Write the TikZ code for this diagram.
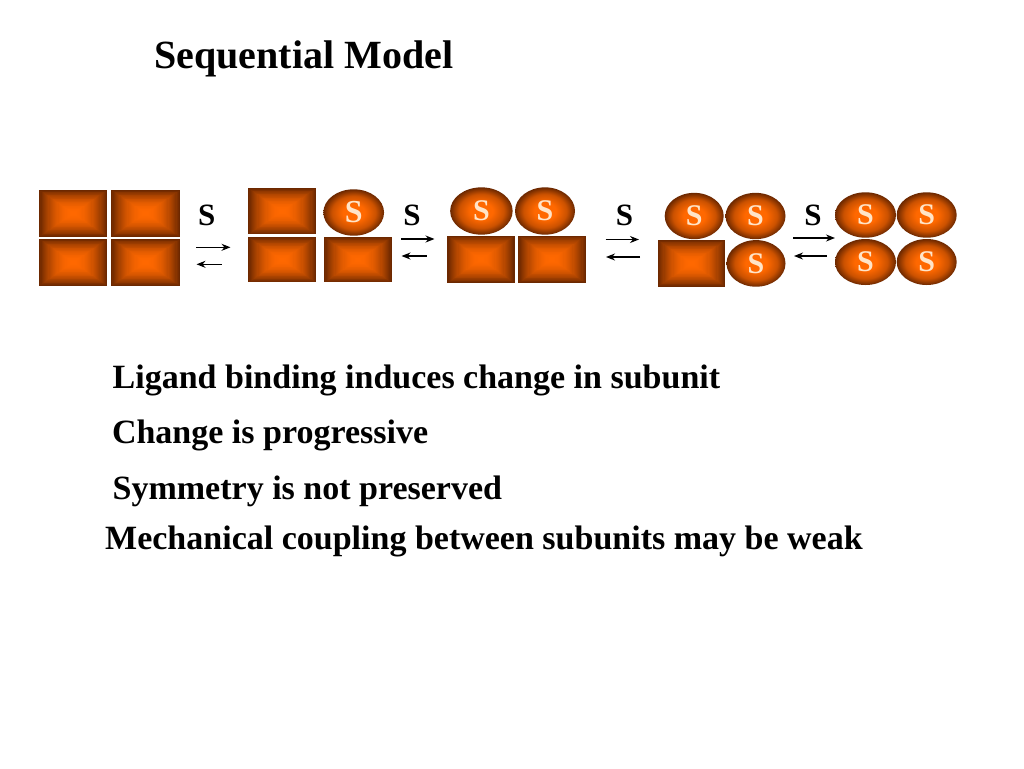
\documentclass[tikz,border=0pt]{standalone}
\usepackage{fontspec}
\setmainfont{Liberation Serif}
\usetikzlibrary{shapes.geometric,arrows.meta,calc}
\definecolor{hi}{RGB}{255,104,0}
\definecolor{lo}{RGB}{108,40,0}
\definecolor{peach}{RGB}{255,228,200}
\pgfdeclareradialshading{ballsh}{\pgfpoint{0bp}{0bp}}{color(0bp)=(hi); color(9bp)=(hi); color(18bp)=(hi!65!lo); color(25bp)=(lo); color(50bp)=(lo)}
\tikzset{
  sub/.style n args={2}{rectangle, inner sep=0pt, minimum width=#1, minimum height=#2, fill=lo,
    path picture={
      \foreach \k in {0,...,29}{
        \pgfmathsetmacro\f{1-\k/30}
        \pgfmathsetmacro\p{100*(1-(1-\k/29)^2)}
        \fill[hi!\p!lo] ($(path picture bounding box.center)!\f!(path picture bounding box.north west)$) rectangle ($(path picture bounding box.center)!\f!(path picture bounding box.south east)$);
      }
    }},
  lig/.style n args={2}{ellipse, inner sep=0pt, minimum width=#1, minimum height=#2, shade, shading=ballsh,
    text=peach, font=\bfseries\fontsize{30}{30}\selectfont},
  slab/.style={anchor=base, inner sep=0pt, font=\bfseries\fontsize{31}{31}\selectfont},
  rxn/.style={line width=1.4pt, -{Stealth[length=9pt,width=7pt]}},
  body/.style={anchor=base west, inner sep=0pt, font=\bfseries\fontsize{34}{40}\selectfont},
}
\begin{document}
\begin{tikzpicture}[x=1pt,y=-1pt]
\useasboundingbox[fill=white] (0,0) rectangle (1024,768);
\node[body, font=\bfseries\fontsize{40}{46}\selectfont] (title) at (154,68.3) {Sequential Model};

% set 1
\node[sub={68pt}{46.7pt}] (a1) at (73.3,213.3) {};
\node[sub={68.7pt}{46.7pt}] (a2) at (145.7,213.3) {};
\node[sub={68pt}{46.7pt}] (a3) at (73.3,262.3) {};
\node[sub={68.7pt}{46.7pt}] (a4) at (145.7,262.3) {};
% set 2
\node[sub={67.7pt}{46pt}] (b1) at (282.2,211.3) {};
\node[lig={60.7pt}{46.4pt}, font=\bfseries\fontsize{32}{32}\selectfont] (b2) at (353.7,212.5) {\raisebox{-3pt}{S}};
\node[sub={67.7pt}{45pt}] (b3) at (282.2,259.8) {};
\node[sub={67.4pt}{45pt}] (b4) at (358,259.8) {};
% set 3
\node[lig={62.5pt}{47.3pt}] (c1) at (481.4,211) {S};
\node[lig={60pt}{47.3pt}] (c2) at (545,211) {S};
\node[sub={67.2pt}{47.3pt}] (c3) at (481,259.4) {};
\node[sub={67.6pt}{47.3pt}] (c4) at (552.1,259.4) {};
% set 4
\node[lig={59pt}{46.3pt}] (d1) at (694.2,216) {S};
\node[lig={60pt}{46.3pt}] (d2) at (755.5,216) {S};
\node[sub={67.6pt}{46.6pt}] (d3) at (691.6,263.4) {};
\node[lig={59pt}{46.6pt}] (d4) at (756,263.4) {S};
% set 5
\node[lig={61pt}{45.4pt}] (e1) at (865.5,215) {S};
\node[lig={60pt}{45.4pt}] (e2) at (926.7,215) {S};
\node[lig={61pt}{46pt}] (e3) at (865.5,262) {S};
\node[lig={60pt}{46pt}] (e4) at (926.7,262) {S};

% S labels
\node[slab] (s1) at (206.7,225) {S};
\node[slab] (s2) at (412,225) {S};
\node[slab] (s3) at (624.5,225) {S};
\node[slab] (s4) at (813,225) {S};

% arrows
\coordinate (f1a) at (196,247.3); \coordinate (f1b) at (230.5,247.3);
\coordinate (r1a) at (221.7,264.3); \coordinate (r1b) at (196.5,264.3);
\coordinate (f2a) at (401,239); \coordinate (f2b) at (434.5,239);
\coordinate (r2a) at (426.7,256); \coordinate (r2b) at (401.5,256);
\coordinate (f3a) at (605.5,239.5); \coordinate (f3b) at (639,239.5);
\coordinate (r3a) at (640,257); \coordinate (r3b) at (606,257);
\coordinate (f4a) at (793.3,238); \coordinate (f4b) at (835,238);
\coordinate (r4a) at (827,256); \coordinate (r4b) at (794,256);
\draw[rxn] (f1a) -- (f1b);
\draw[rxn] (r1a) -- (r1b);
\draw[rxn] (f2a) -- (f2b);
\draw[rxn] (r2a) -- (r2b);
\draw[rxn] (f3a) -- (f3b);
\draw[rxn] (r3a) -- (r3b);
\draw[rxn] (f4a) -- (f4b);
\draw[rxn] (r4a) -- (r4b);

% text
\node[body] (t1) at (112.5,388.3) {Ligand binding induces change in subunit};
\node[body] (t2) at (111.8,443.3) {Change is progressive};
\node[body] (t3) at (112.5,499) {Symmetry is not preserved};
\node[body] (t4) at (105,549.3) {Mechanical coupling between subunits may be weak};
\end{tikzpicture}
\end{document}
